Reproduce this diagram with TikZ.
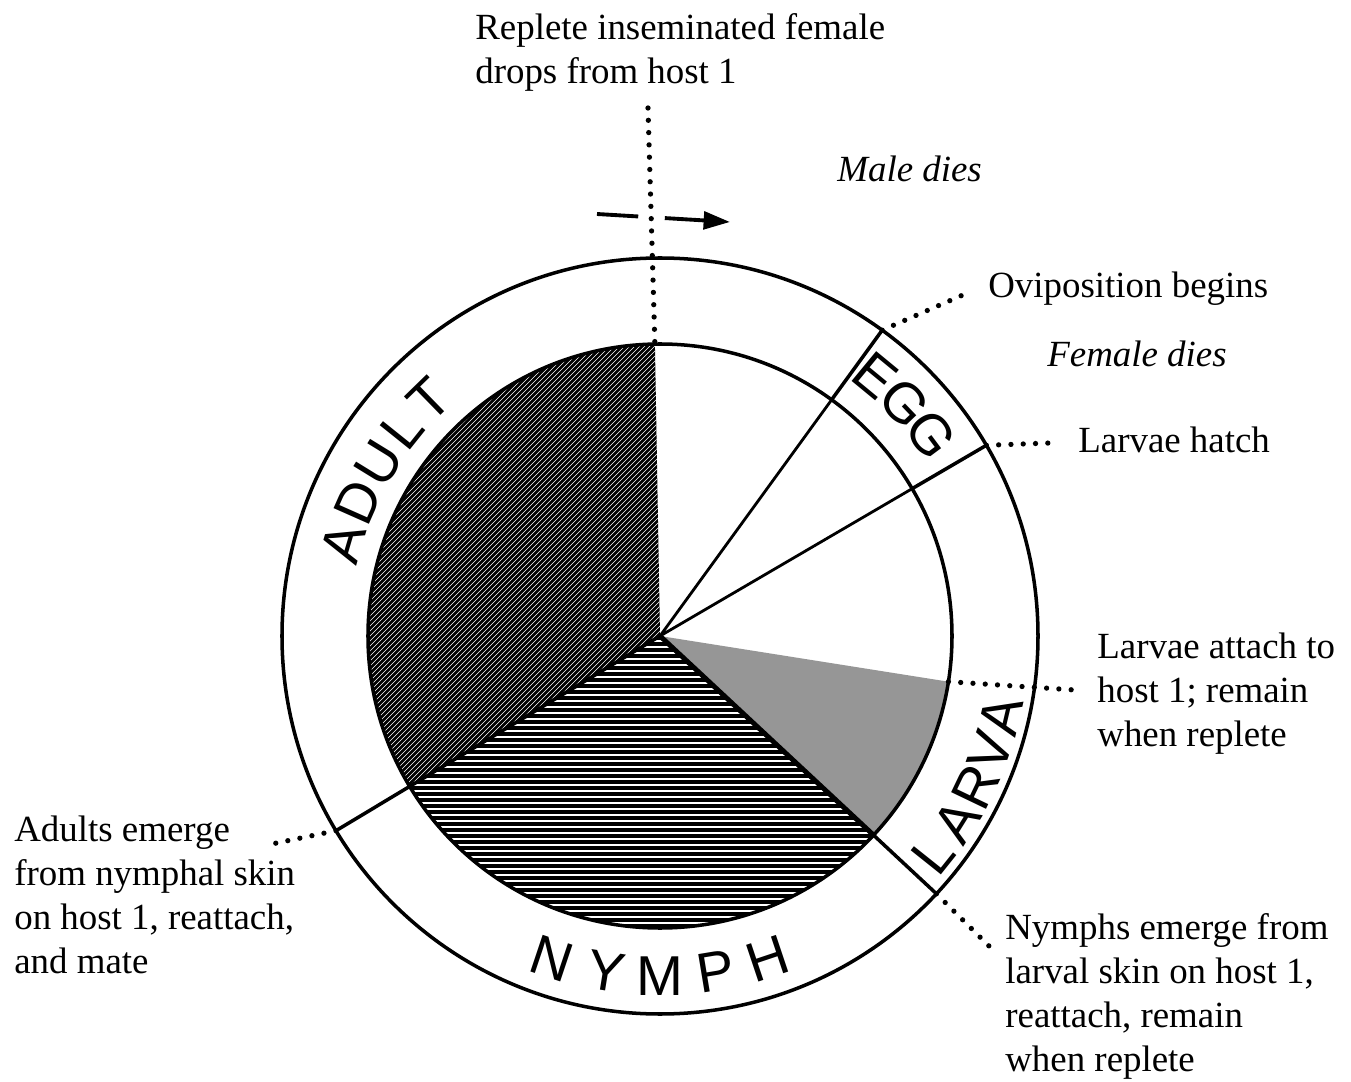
\documentclass[tikz,border=0pt]{standalone}
\usepackage{fontspec}
\setmainfont{Liberation Serif}
\newfontfamily\ringfont{Liberation Sans}
\usepackage{tikz}
\usetikzlibrary{arrows.meta, calc}
\definecolor{stipple}{RGB}{150,150,150}

\begin{document}
\begin{tikzpicture}[x=0.02cm, y=0.02cm,
  note/.style={font=\fontsize{21}{25}\selectfont, inner sep=0pt, align=left},
  noteit/.style={note, font=\fontsize{21}{25}\selectfont\itshape},
  stage/.style={font=\ringfont\fontsize{32}{32}\selectfont, inner sep=0pt},
  leader/.style={line width=3pt, line cap=round, dash pattern=on 0pt off 7pt},
  rim/.style={line width=2pt}]
  \useasboundingbox (-660,-445) rectangle (691,636);
  % adult sector (dark hatching)
  \begin{scope}
    \clip (0,0) -- (91:292) arc[start angle=91, end angle=211, radius=292] -- cycle;
    \fill (-300,-300) rectangle (300,300);
    \foreach \c in {-600,-595,...,160}
      \draw[white, line width=0.35pt] (\c-300,-300) -- (\c+300,300);
  \end{scope}
  % nymph sector (horizontal lines)
  \begin{scope}
    \clip (0,0) -- (211:292) arc[start angle=211, end angle=317, radius=292] -- cycle;
    \foreach \y in {-296,-290,...,0}
      \draw[line width=1.9pt] (-300,\y) -- (300,\y);
  \end{scope}
  % larva sector (stipple)
  \fill[stipple] (0,0) -- (317:292) arc[start angle=317, end angle=351, radius=292] -- cycle;
  % radial lines
  \draw[line width=1.6pt] (0,0) -- (30.3:292) (0,0) -- (54:292);
  \draw[line width=2pt] (0,0) -- (211:292);
  \draw[line width=2.8pt] (0,0) -- (317:292);
  % circles and ring dividers
  \draw[rim] (0,0) circle[radius=292];
  \draw[rim] (0,0) circle[radius=378];
  \foreach \a in {30.3,54,211,317}
    \draw[rim] (\a:292) -- (\a:378);
  % ring labels
  \foreach \ch/\a [count=\i] in {A/163.6,D/156.1,U/148.4,L/141.3,T/134.3}
    \node[stage, rotate=\a-90] (adult\i) at (\a:330) {\ch};
  \foreach \ch/\a [count=\i] in {E/50.5,G/43.6,G/36.6}
    \node[stage, rotate=\a-90] (egg\i) at (\a:338) {\ch};
  \foreach \ch/\a [count=\i] in {L/-38.6,A/-32,R/-25.6,V/-19.3,A/-13.2}
    \node[stage, rotate=\a+90] (larva\i) at (\a:350) {\ch};
  \foreach \ch/\a [count=\i] in {N/251.5,Y/260.8,M/270,P/279.4,H/288.5}
    \node[stage, rotate=\a+90] (nymph\i) at (\a:340) {\ch};
  % notes
  \node[note, anchor=north west] (drop) at (-185,623) {Replete inseminated female\\drops from host 1};
  \node[noteit, anchor=base west] (male) at (177,454) {Male dies};
  \node[note, anchor=base west] (ovi) at (328,338) {Oviposition begins};
  \node[noteit, anchor=base west] (female) at (387,269) {Female dies};
  \node[note, anchor=base west] (hatch) at (418,183) {Larvae hatch};
  \node[note, anchor=north west] (attach) at (437,3) {Larvae attach to\\host 1; remain\\when replete};
  \node[note, anchor=north west] (nymphs) at (345,-277) {Nymphs emerge from\\larval skin on host 1,\\reattach, remain\\when replete};
  \node[note, anchor=north west] (adults) at (-646,-180) {Adults emerge\\from nymphal skin\\on host 1, reattach,\\and mate};
  % leader ends
  \coordinate (droptop) at (-12,528);
  \coordinate (piepeak) at (91:292);
  \coordinate (arrL) at (-63,422);
  \coordinate (arrR) at (70,414);
  \coordinate (ovirim) at (54:378);
  \coordinate (ovidot) at (312,345);
  \coordinate (hatchrim) at (30.3:378);
  \coordinate (hatchdot) at (390,193);
  \coordinate (attachrim) at (351:292);
  \coordinate (attachdot) at (415,-54);
  \coordinate (nymphrim) at (317:378);
  \coordinate (nymphdot) at (333,-314);
  \coordinate (adultrim) at (211:378);
  \coordinate (adultdot) at (-393,-209);
  % dotted leaders
  \draw[leader] (droptop) -- (piepeak);
  \draw[leader] (ovirim) -- (ovidot);
  \draw[leader] (hatchrim) -- (hatchdot);
  \draw[leader] (attachrim) -- (attachdot);
  \draw[leader] (nymphrim) -- (nymphdot);
  \draw[leader] (adultrim) -- (adultdot);
  % direction of the cycle
  \draw[line width=2.2pt] (arrL) -- ($(arrL)!0.31!(arrR)$);
  \draw[line width=2.2pt, -{Triangle[length=15pt,width=10pt]}] ($(arrL)!0.51!(arrR)$) -- (arrR);
\end{tikzpicture}
\end{document}
